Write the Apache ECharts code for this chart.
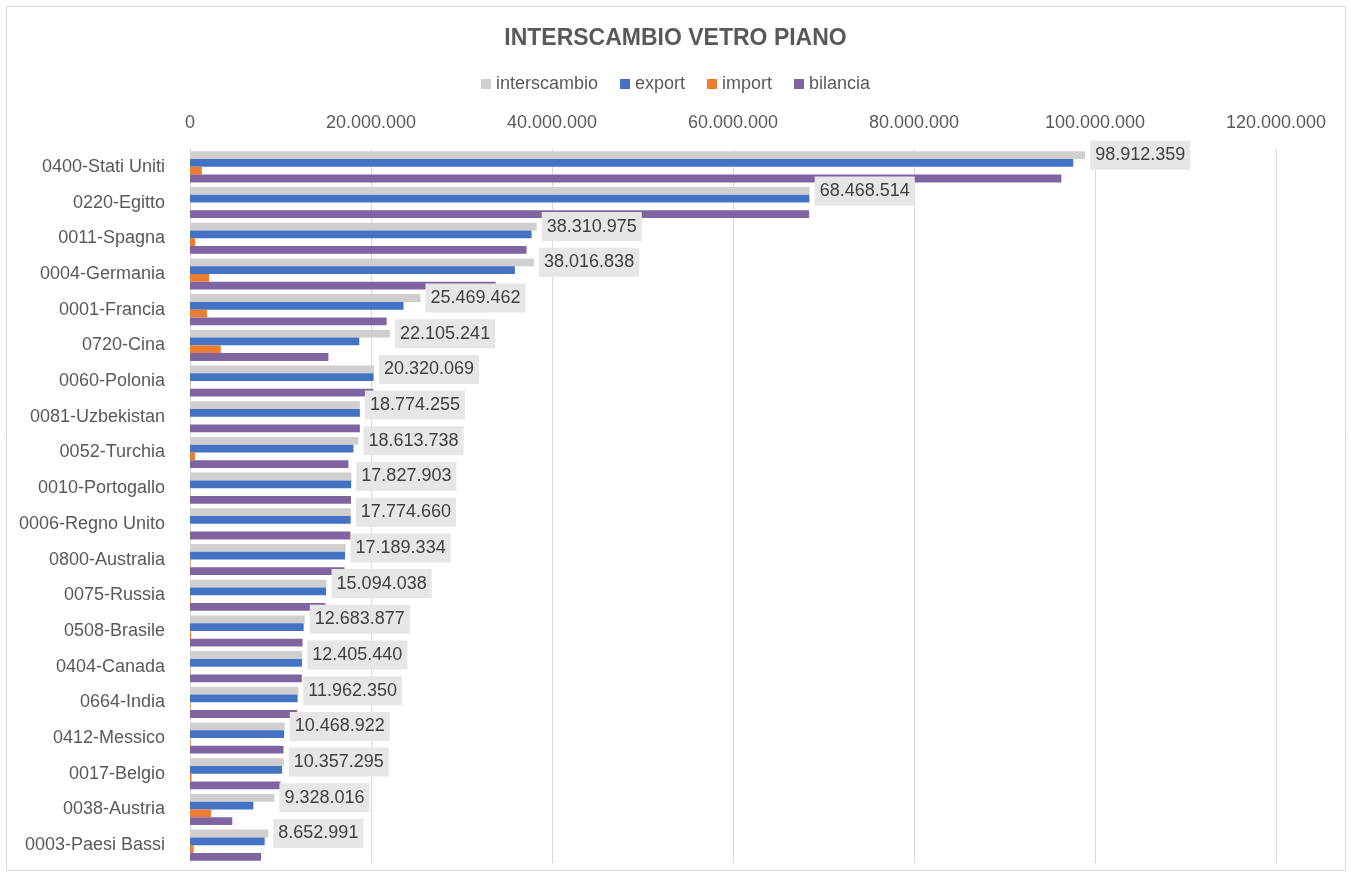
<!DOCTYPE html>
<html>
<head>
<meta charset="utf-8">
<script src="https://cdn.jsdelivr.net/npm/echarts@6/dist/echarts.min.js"></script>
<style>
html,body{margin:0;padding:0;background:#fff;}
#c{width:1351px;height:877px;}
</style>
</head>
<body>
<div id="c"></div>
<script>
const categories = ["0400-Stati Uniti","0220-Egitto","0011-Spagna","0004-Germania","0001-Francia","0720-Cina","0060-Polonia","0081-Uzbekistan","0052-Turchia","0010-Portogallo","0006-Regno Unito","0800-Australia","0075-Russia","0508-Brasile","0404-Canada","0664-India","0412-Messico","0017-Belgio","0038-Austria","0003-Paesi Bassi"];
const interscambio = [98912359,68468514,38310975,38016838,25469462,22105241,20320069,18774255,18613738,17827903,17774660,17189334,15094038,12683877,12405440,11962350,10468922,10357295,9328016,8652991];
const exportVals = [97600000,68440000,37750000,35900000,23600000,18700000,20290000,18770000,18060000,17810000,17760000,17130000,15030000,12560000,12380000,11900000,10400000,10180000,7000000,8250000];
const importVals = [1312359,28514,560975,2116838,1869462,3405241,30069,4255,553738,17903,14660,59334,64038,123877,25440,62350,68922,177295,2328016,402991];
const bilancia = [96287641,68411486,37189025,33783162,21730538,15294759,20259931,18765745,17506262,17792097,17745340,17070666,14965962,12436123,12354560,11837650,10331078,10002705,4671984,7847009];
const xTicks = [0,20000000,40000000,60000000,80000000,100000000,120000000];

function fmt(v){ return String(v).replace(/\B(?=(\d{3})+(?!\d))/g,'.'); }
const FONT = "'Liberation Sans',Arial,sans-serif";

const chart = echarts.init(document.getElementById('c'), null, {renderer:'canvas'});
chart.setOption({
  animation:false,
  textStyle:{fontFamily:FONT},
  graphic:[{type:'rect',shape:{x:6.5,y:6.5,width:1339,height:864},style:{fill:'none',stroke:'#d9d9d9',lineWidth:1},z:-1}],
  title:{text:'INTERSCAMBIO VETRO PIANO',left:'center',top:22,textStyle:{fontFamily:FONT,fontSize:23,fontWeight:'bold',color:'#595959'}},
  legend:{top:70,left:'center',icon:'rect',itemWidth:10,itemHeight:10,itemGap:22,textStyle:{fontFamily:FONT,fontSize:18,color:'#595959'},
    data:['interscambio','export','import','bilancia']},
  grid:{left:190,right:75,top:149,bottom:14,containLabel:false},
  xAxis:{type:'value',position:'top',min:xTicks[0],max:xTicks[xTicks.length-1],interval:xTicks[1]-xTicks[0],
    axisLine:{show:false},axisTick:{show:false},
    splitLine:{lineStyle:{color:'#d9d9d9',width:1}},
    axisLabel:{fontFamily:FONT,fontSize:18,color:'#595959',margin:17,formatter:v=>fmt(v)}},
  yAxis:{type:'category',inverse:true,data:categories,
    axisLine:{lineStyle:{color:'#d9d9d9'}},axisTick:{show:false},
    axisLabel:{fontFamily:FONT,fontSize:18,color:'#595959',margin:25,padding:[4,0,0,0]}},
  series:[
    {name:'interscambio',type:'bar',data:interscambio,itemStyle:{color:'#d0cece'},barGap:'0%',barCategoryGap:'13%',z:2,
      label:{show:true,position:'right',distance:5,offset:[0,2],formatter:p=>fmt(p.value),fontFamily:FONT,fontSize:18,color:'#404040',backgroundColor:'#e7e6e6',padding:[6,5,5,5]},
      labelLayout:{hideOverlap:false}},
    {name:'export',type:'bar',data:exportVals,itemStyle:{color:'#4472c4'},barGap:'0%',barCategoryGap:'13%'},
    {name:'import',type:'bar',data:importVals,itemStyle:{color:'#ed7d31'},barGap:'0%',barCategoryGap:'13%'},
    {name:'bilancia',type:'bar',data:bilancia,itemStyle:{color:'#8064a2'},barGap:'0%',barCategoryGap:'13%'}
  ]
});
</script>
</body>
</html>
